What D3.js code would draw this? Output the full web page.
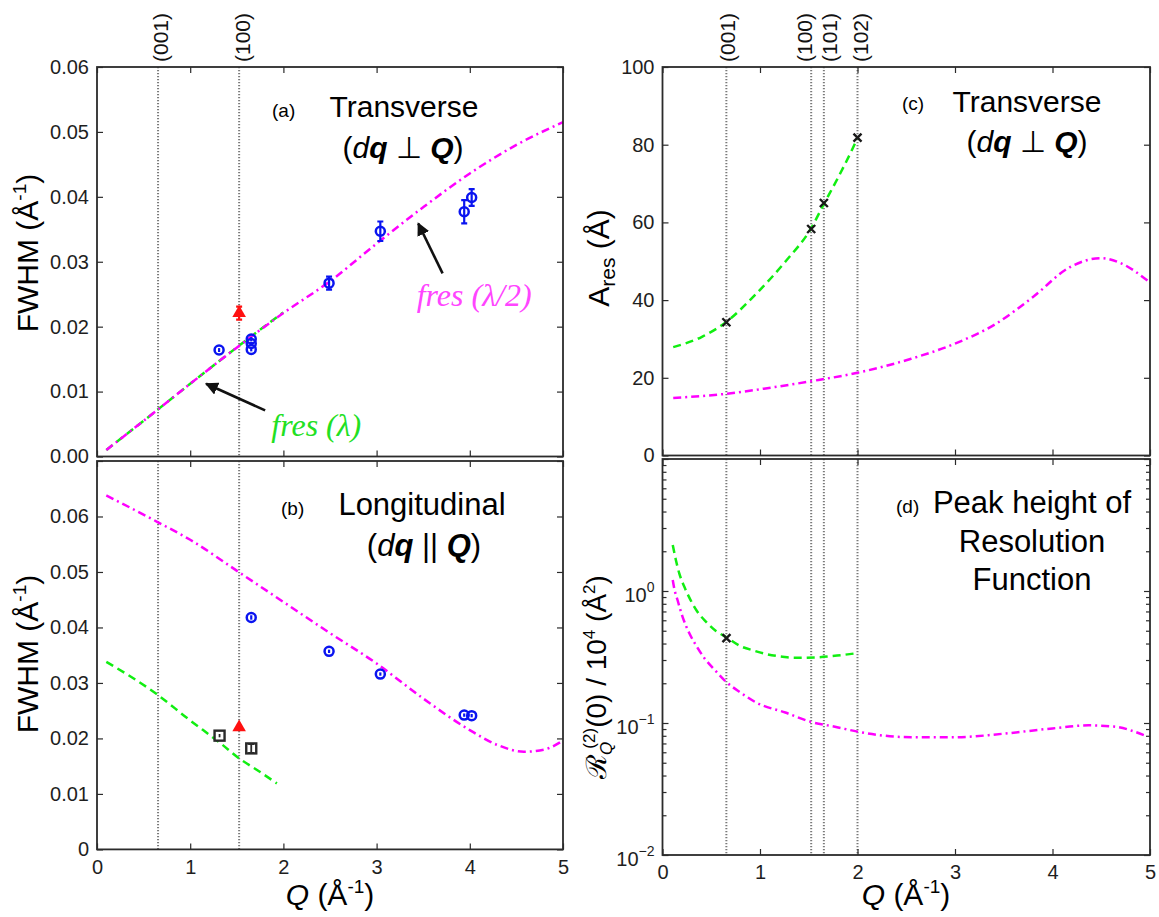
<!DOCTYPE html>
<html>
<head>
<meta charset="utf-8">
<script src="https://cdn.jsdelivr.net/npm/d3@7"></script>
<style>
body { margin: 0; background: #fff; }
svg { font-family: "Liberation Sans", Arial, sans-serif; }
</style>
</head>
<body>
<svg width="1159" height="917"></svg>
<script>
// Bragg peak positions
var peakQ = [0.655, 1.525, 1.655, 2.0]
var peakNames = ["(001)", "(100)", "(101)", "(102)"]

// (a) transverse FWHM
var aLamQ = [0.1, 0.5, 1.0, 1.5, 2.0]
var aLamW = [0.0010, 0.0055, 0.0112, 0.0168, 0.0222]
var aHalfQ = [0.1, 0.65, 1.0, 1.52, 2.0, 2.5, 3.0, 3.5, 4.0, 4.5, 5.0]
var aHalfW = [0.0010, 0.0072, 0.0112, 0.0170, 0.0221, 0.0270, 0.0328, 0.0384, 0.0436, 0.0480, 0.0515]
var aBlueQ = [1.31, 1.655, 1.655, 1.655, 2.49, 3.04, 3.94, 4.02]
var aBlueW = [0.0164, 0.0181, 0.0174, 0.0165, 0.0267, 0.0347, 0.0377, 0.0399]
var aBlueE = [0.0003, 0.0003, 0.0003, 0.0003, 0.0010, 0.0015, 0.0018, 0.0013]
var aRedQ = [1.525]
var aRedW = [0.0221]
var aRedE = [0.0010]

// (b) longitudinal FWHM
var bLamQ = [0.1, 0.64, 0.98, 1.32, 1.55, 1.7, 1.93]
var bLamW = [0.0338, 0.0280, 0.0235, 0.0192, 0.0161, 0.0145, 0.0119]
var bHalfQ = [0.1, 0.65, 1.0, 1.52, 2.0, 2.48, 3.0, 3.5, 4.0, 4.3, 4.58, 4.8, 5.0]
var bHalfW = [0.0638, 0.0590, 0.0558, 0.0500, 0.0446, 0.0392, 0.0335, 0.0272, 0.0215, 0.0188, 0.0176, 0.0180, 0.0196]
var bBlueQ = [1.655, 2.49, 3.04, 3.94, 4.02]
var bBlueW = [0.0418, 0.0357, 0.0316, 0.0242, 0.0241]
var bBlueE = [0.0004, 0.0003, 0.0003, 0.0003, 0.0003]
var bRedQ = [1.525]
var bRedW = [0.0220]
var bRedE = [0.0003]
var bSqQ = [1.315, 1.655]
var bSqW = [0.0205, 0.0182]
var bSqE = [0.0003, 0.0008]

// (c) A_res
var cLamQ = [0.11, 0.4, 0.65, 0.96, 1.27, 1.52, 1.65, 1.8, 1.95, 2.0]
var cLamA = [27.9, 30.5, 34.3, 41.6, 50.2, 58.3, 64.5, 71.5, 79.0, 81.7]
var cHalfQ = [0.11, 0.66, 1.04, 1.52, 2.0, 2.55, 3.0, 3.42, 3.8, 4.18, 4.5, 4.71, 4.98]
var cHalfA = [14.8, 15.9, 17.2, 19.1, 21.3, 24.9, 28.8, 33.9, 40.8, 48.5, 50.8, 49.4, 44.9]
var cCrossQ = [0.655, 1.525, 1.655, 2.0]
var cCrossA = [34.3, 58.3, 65.0, 81.8]

// (d) peak height
var dLamQ = [0.105, 0.137, 0.172, 0.223, 0.284, 0.353, 0.445, 0.548, 0.656, 0.797, 0.94, 1.077, 1.23, 1.35, 1.57, 1.79, 1.98]
var dLamR = [2.23, 1.72, 1.36, 1.08, 0.865, 0.705, 0.586, 0.498, 0.446, 0.383, 0.353, 0.331, 0.318, 0.312, 0.314, 0.324, 0.337]
var dHalfQ = [0.105, 0.12, 0.154, 0.205, 0.274, 0.342, 0.43, 0.53, 0.65, 0.8, 0.96, 1.26, 1.52, 1.79, 2.0, 2.55, 3.0, 3.5, 4.0, 4.37, 4.63, 4.97]
var dHalfR = [1.21, 1.05, 0.855, 0.64, 0.48, 0.39, 0.31, 0.255, 0.206, 0.17, 0.143, 0.12, 0.102, 0.093, 0.086, 0.078, 0.078, 0.083, 0.091, 0.096, 0.094, 0.079]
var dCrossQ = [0.656]
var dCrossR = [0.44]

var xTicks = [0, 1, 2, 3, 4, 5]
var aTicks = [0, 0.01, 0.02, 0.03, 0.04, 0.05, 0.06]
var bTicks = [0, 0.01, 0.02, 0.03, 0.04, 0.05, 0.06, 0.07]
var cTicks = [0, 20, 40, 60, 80, 100]

var ink = "#2b2b2b"
var green = "#11ee11"
var magenta = "#ff00ff"
var blue = "#0a14f0"
var fontFam = "'Liberation Sans', Arial, sans-serif"
var serif = "'Liberation Serif', 'Times New Roman', serif"

var svg = d3.select("svg")

var defs = svg.append("defs")
defs.append("marker")
    .attr("id", "arrowHead")
    .attr("viewBox", "0 0 10 10")
    .attr("refX", 9).attr("refY", 5)
    .attr("markerWidth", 5).attr("markerHeight", 5)
    .attr("markerUnits", "strokeWidth")
    .attr("orient", "auto")
    .append("path")
    .attr("d", "M0,0L10,5L0,10z")
    .attr("fill", "#111")

var makePanel = function(xRange, yScale, yRange)
{
    var xScale = d3.scaleLinear().domain([0, 5]).range(xRange)
    yScale.range(yRange)
    var g = svg.append("g")
    return {g: g, x: xScale, y: yScale}
}

var pA = makePanel([97, 563], d3.scaleLinear().domain([0, 0.06]), [456.5, 67])
var pB = makePanel([97, 563], d3.scaleLinear().domain([0, 0.07]), [849.4, 461])
var pC = makePanel([662.5, 1150], d3.scaleLinear().domain([0, 100]), [455.5, 67])
var pD = makePanel([662.5, 1150], d3.scaleLog().domain([0.01, 10]), [855, 459])

var drawPeaks = function(p, n)
{
    var yr = p.y.range()
    p.g.append("g")
    .selectAll("line")
    .data(peakQ.slice(0, n))
    .enter()
    .append("line")
    .attr("x1", function(q) { return p.x(q) })
    .attr("x2", function(q) { return p.x(q) })
    .attr("y1", yr[1])
    .attr("y2", yr[0])
    .attr("stroke", "#7a7a7a")
    .attr("stroke-width", 2)
    .attr("stroke-dasharray", "1.3,1.7")
}

var drawCurve = function(p, qs, vs, color, dash)
{
    var line = d3.line()
    .x(function(d) { return p.x(d[0]) })
    .y(function(d) { return p.y(d[1]) })
    .curve(d3.curveMonotoneX)

    p.g.append("path")
    .datum(d3.zip(qs, vs))
    .attr("d", line)
    .attr("fill", "none")
    .attr("stroke", color)
    .attr("stroke-width", 2.5)
    .attr("stroke-dasharray", dash)
}

var greenDash = "8,5"
var magentaDash = "8,4,2,4"

var drawErrBars = function(p, qs, vs, es, color, width)
{
    p.g.append("g")
    .selectAll("path")
    .data(d3.range(qs.length))
    .enter()
    .append("path")
    .attr("d", function(i)
    {
        var x = p.x(qs[i]), lo = p.y(vs[i] - es[i]), hi = p.y(vs[i] + es[i])
        var c = 3
        return "M" + x + "," + lo + "V" + hi +
            (es[i] > 0.0005 ? "M" + (x - c) + "," + lo + "H" + (x + c) + "M" + (x - c) + "," + hi + "H" + (x + c) : "")
    })
    .attr("stroke", color)
    .attr("stroke-width", width)
    .attr("fill", "none")
}

var drawCircles = function(p, qs, vs, es)
{
    drawErrBars(p, qs, vs, es, blue, 2.2)
    p.g.append("g")
    .selectAll("circle")
    .data(d3.range(qs.length))
    .enter()
    .append("circle")
    .attr("cx", function(i) { return p.x(qs[i]) })
    .attr("cy", function(i) { return p.y(vs[i]) })
    .attr("r", 4.5)
    .attr("fill", "none")
    .attr("stroke", blue)
    .attr("stroke-width", 2.5)
}

var drawTriangles = function(p, qs, vs, es)
{
    drawErrBars(p, qs, vs, es, "#ff1010", 2.2)
    p.g.append("g")
    .selectAll("path")
    .data(d3.range(qs.length))
    .enter()
    .append("path")
    .attr("transform", function(i) { return "translate(" + p.x(qs[i]) + "," + p.y(vs[i]) + ")" })
    .attr("d", d3.symbol().type(d3.symbolTriangle).size(80))
    .attr("fill", "#ff1010")
}

var drawSquares = function(p, qs, vs, es)
{
    p.g.append("g")
    .selectAll("rect")
    .data(d3.range(qs.length))
    .enter()
    .append("rect")
    .attr("x", function(i) { return p.x(qs[i]) - 5 })
    .attr("y", function(i) { return p.y(vs[i]) - 5 })
    .attr("width", 10)
    .attr("height", 10)
    .attr("fill", "#fff")
    .attr("stroke", "#2a2a2a")
    .attr("stroke-width", 2.4)
    drawErrBars(p, qs, vs, es, "#2a2a2a", 1.8)
}

var drawCrosses = function(p, qs, vs)
{
    p.g.append("g")
    .selectAll("path")
    .data(d3.range(qs.length))
    .enter()
    .append("path")
    .attr("transform", function(i) { return "translate(" + p.x(qs[i]) + "," + p.y(vs[i]) + ")" })
    .attr("d", "M-4,-4L4,4M-4,4L4,-4")
    .attr("stroke", "#1a1a1a")
    .attr("stroke-width", 2.4)
}

var styleAxis = function(sel)
{
    sel.select(".domain").remove()
    sel.attr("font-size", 20).attr("font-family", fontFam)
    sel.selectAll(".tick line").attr("stroke", ink).attr("stroke-width", 1.2)
    sel.selectAll(".tick text").attr("fill", "#1e1e1e")
}

var drawFrame = function(p, yTicks, yFormat, xLabels)
{
    var xr = p.x.range(), yr = p.y.range()

    p.g.append("g")
    .attr("transform", "translate(0," + yr[0] + ")")
    .call(d3.axisBottom(p.x).tickValues(xTicks).tickSizeInner(-6).tickSizeOuter(0).tickPadding(10)
        .tickFormat(xLabels ? d3.format("d") : ""))
    .call(styleAxis)

    p.g.append("g")
    .attr("transform", "translate(0," + yr[1] + ")")
    .call(d3.axisTop(p.x).tickValues(xTicks).tickSizeInner(-6).tickSizeOuter(0).tickFormat(""))
    .call(styleAxis)

    if (yTicks)
    {
        p.g.append("g")
        .attr("transform", "translate(" + xr[0] + ",0)")
        .call(d3.axisLeft(p.y).tickValues(yTicks).tickSizeInner(-6).tickSizeOuter(0).tickPadding(8).tickFormat(yFormat))
        .call(styleAxis)

        p.g.append("g")
        .attr("transform", "translate(" + xr[1] + ",0)")
        .call(d3.axisRight(p.y).tickValues(yTicks).tickSizeInner(-6).tickSizeOuter(0).tickFormat(""))
        .call(styleAxis)
    }

    p.g.append("rect")
    .attr("x", xr[0]).attr("y", yr[1])
    .attr("width", xr[1] - xr[0]).attr("height", yr[0] - yr[1])
    .attr("fill", "none")
    .attr("stroke", ink)
    .attr("stroke-width", 1.8)
}

// rich text helper: parts are strings or {t, italic, bold, size, dy, dx, family}
var richText = function(parent, x, y, anchor, size, parts, color, rotate)
{
    var t = parent.append("text")
    .attr("text-anchor", anchor)
    .attr("font-size", size)
    .attr("fill", color || "#000")
    if (rotate) t.attr("transform", "translate(" + x + "," + y + ") rotate(-90)")
    else t.attr("x", x).attr("y", y)
    parts.forEach(function(part)
    {
        if (typeof part === "string") part = {t: part}
        var s = t.append("tspan").text(part.t)
        if (part.italic) s.style("font-style", "italic")
        if (part.bold) s.style("font-weight", "bold")
        if (part.size) s.attr("font-size", part.size)
        if (part.dy) s.attr("dy", part.dy)
        if (part.dx) s.attr("dx", part.dx)
        if (part.family) s.style("font-family", part.family)
    })
    return t
}

var peakLabels = function(p, n, offsets)
{
    var top = p.y.range()[1]
    peakQ.slice(0, n).forEach(function(q, i)
    {
        svg.append("text")
        .attr("transform", "translate(" + (p.x(q) + offsets[i]) + "," + (top - 5) + ") rotate(-90)")
        .attr("font-size", 21)
        .attr("fill", "#111")
        .text(peakNames[i])
    })
}

// ---- panel (a)
drawPeaks(pA, 2)
drawCurve(pA, aLamQ, aLamW, green, greenDash)
drawCurve(pA, aHalfQ, aHalfW, magenta, magentaDash)
drawCircles(pA, aBlueQ, aBlueW, aBlueE)
drawTriangles(pA, aRedQ, aRedW, aRedE)
drawFrame(pA, aTicks, d3.format(".2f"), false)
peakLabels(pA, 2, [10, 11])

var arrow = function(p, q1, v1, q2, v2)
{
    p.g.append("line")
    .attr("x1", p.x(q1)).attr("y1", p.y(v1))
    .attr("x2", p.x(q2)).attr("y2", p.y(v2))
    .attr("stroke", "#111")
    .attr("stroke-width", 2.6)
    .attr("marker-end", "url(#arrowHead)")
}
arrow(pA, 3.708, 0.0282, 3.447, 0.0359)
arrow(pA, 1.804, 0.0071, 1.171, 0.0112)

richText(pA.g, pA.x(3.43), pA.y(0.0232), "start", 32,
    [{t: "fres (λ/2)", italic: true, family: serif}], "#ff45ff")
richText(pA.g, pA.x(1.87), pA.y(0.0031), "start", 32,
    [{t: "fres (λ)", italic: true, family: serif}], "#22e022")

richText(svg, 272, 117, "start", 19, ["(a)"])
richText(svg, 404, 117, "middle", 30, ["Transverse"])
richText(svg, 403, 158, "middle", 30,
    ["(", {t: "d", italic: true}, {t: "q", italic: true, bold: true}, " ⊥ ", {t: "Q", italic: true, bold: true}, ")"])

richText(svg, 38, 253, "middle", 30,
    ["FWHM (Å", {t: "-1", size: 19, dy: -12}, {t: ")", size: 30, dy: 12}], "#000", true)

// ---- panel (b)
drawPeaks(pB, 2)
drawCurve(pB, bLamQ, bLamW, green, greenDash)
drawCurve(pB, bHalfQ, bHalfW, magenta, magentaDash)
drawCircles(pB, bBlueQ, bBlueW, bBlueE)
drawSquares(pB, bSqQ, bSqW, bSqE)
drawTriangles(pB, bRedQ, bRedW, bRedE)
drawFrame(pB, bTicks, function(d)
{
    if (d === 0) return "0"
    if (d > 0.065) return ""
    return d3.format(".2f")(d)
}, true)

richText(svg, 281, 515, "start", 19, ["(b)"])
richText(svg, 422, 515, "middle", 31, ["Longitudinal"])
richText(svg, 424, 556, "middle", 31,
    ["(", {t: "d", italic: true}, {t: "q", italic: true, bold: true}, " || ", {t: "Q", italic: true, bold: true}, ")"])

richText(svg, 38, 654, "middle", 30,
    ["FWHM (Å", {t: "-1", size: 19, dy: -12}, {t: ")", size: 30, dy: 12}], "#000", true)
richText(svg, 330, 905, "middle", 30,
    [{t: "Q", italic: true}, " (Å", {t: "-1", size: 19, dy: -12}, {t: ")", size: 30, dy: 12}])

// ---- panel (c)
drawPeaks(pC, 4)
drawCurve(pC, cLamQ, cLamA, green, greenDash)
drawCurve(pC, cHalfQ, cHalfA, magenta, magentaDash)
drawCrosses(pC, cCrossQ, cCrossA)
drawFrame(pC, cTicks, d3.format("d"), false)
peakLabels(pC, 4, [9, 1, 13, 10])

richText(svg, 902, 110, "start", 19, ["(c)"])
richText(svg, 1027, 112, "middle", 30, ["Transverse"])
richText(svg, 1027, 152, "middle", 30,
    ["(", {t: "d", italic: true}, {t: "q", italic: true, bold: true}, " ⊥ ", {t: "Q", italic: true, bold: true}, ")"])

richText(svg, 609, 258, "middle", 30,
    ["A", {t: "res", size: 21, dy: 6}, {t: " (Å)", size: 30, dy: -6}], "#000", true)

// ---- panel (d)
drawPeaks(pD, 4)
drawCurve(pD, dLamQ, dLamR, green, greenDash)
drawCurve(pD, dHalfQ, dHalfR, magenta, magentaDash)
drawCrosses(pD, dCrossQ, dCrossR)
drawFrame(pD, null, null, true)

var logTicks = pD.y.ticks()
var isDecade = function(d) { return Math.abs(Math.log10(d) - Math.round(Math.log10(d))) < 1e-6 }

pD.g.append("g")
.attr("transform", "translate(" + pD.x.range()[0] + ",0)")
.call(d3.axisLeft(pD.y).tickValues(logTicks).tickSizeInner(-6).tickSizeOuter(0).tickPadding(8).tickFormat(""))
.call(styleAxis)
.selectAll(".tick")
.each(function(d)
{
    var tk = d3.select(this)
    if (!isDecade(d)) tk.select("line").attr("x2", 4)
    else if (d < 5)
    {
        var e = Math.round(Math.log10(d))
        tk.select("text")
        .attr("dy", "0.5em")
        .call(function(t)
        {
            t.append("tspan").text("10")
            t.append("tspan").attr("font-size", 14).attr("dy", -10).text(e === 0 ? "0" : "−" + (-e))
        })
    }
})

pD.g.append("g")
.attr("transform", "translate(" + pD.x.range()[1] + ",0)")
.call(d3.axisRight(pD.y).tickValues(logTicks).tickSizeInner(-6).tickSizeOuter(0).tickFormat(""))
.call(styleAxis)
.selectAll(".tick")
.each(function(d)
{
    if (!isDecade(d)) d3.select(this).select("line").attr("x2", -4)
})

richText(svg, 896, 513, "start", 19, ["(d)"])
richText(svg, 1032, 513, "middle", 31, ["Peak height of"])
richText(svg, 1032, 552, "middle", 31, ["Resolution"])
richText(svg, 1032, 590, "middle", 31, ["Function"])

richText(svg, 606, 677, "middle", 28,
    [{t: "ℛ", family: "'DejaVu Serif', serif"},
     {t: "Q", italic: true, size: 17, dy: 6},
     {t: "(2)", size: 17, dx: -7, dy: -17},
     {t: "(0) / 10", size: 28, dy: 11},
     {t: "4", size: 17, dy: -11},
     {t: " (Å", size: 28, dy: 11},
     {t: "2", size: 17, dy: -11},
     {t: ")", size: 28, dy: 11}], "#000", true)

richText(svg, 906, 905, "middle", 30,
    [{t: "Q", italic: true}, " (Å", {t: "-1", size: 19, dy: -12}, {t: ")", size: 30, dy: 12}])
</script>
</body>
</html>
